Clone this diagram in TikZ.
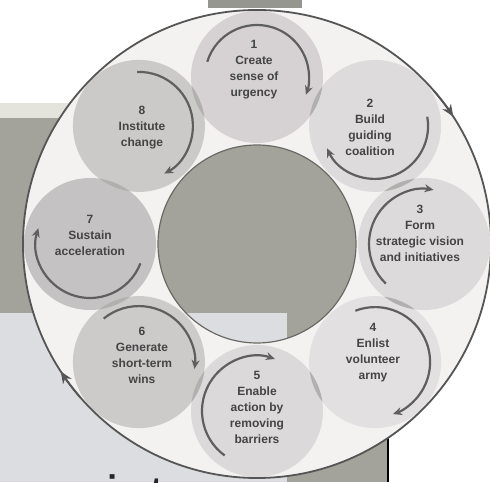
\documentclass[tikz,border=0pt]{standalone}
\usepackage{fontspec}
\setmainfont{Liberation Sans}
\usetikzlibrary{arrows.meta,calc}

% palette
\definecolor{slate}{RGB}{163,163,155}
\definecolor{paleband}{RGB}{228,228,220}
\definecolor{topband}{RGB}{150,150,145}
\definecolor{bluegrey}{RGB}{219,221,225}
\definecolor{ringfill}{RGB}{244,241,241}
\definecolor{ringline}{RGB}{85,85,85}
\definecolor{holeline}{RGB}{105,105,100}
\definecolor{lens}{RGB}{178,175,175}
\definecolor{cycarrow}{RGB}{95,95,95}
\definecolor{stagetext}{RGB}{68,68,68}
\definecolor{cA}{RGB}{214,210,211}
\definecolor{cB}{RGB}{222,219,220}
\definecolor{cC}{RGB}{221,218,219}
\definecolor{cD}{RGB}{226,224,225}
\definecolor{cE}{RGB}{220,217,218}
\definecolor{cF}{RGB}{205,202,202}
\definecolor{cG}{RGB}{197,194,195}
\definecolor{cH}{RGB}{204,201,201}

\tikzset{
  stage/.style={circle, minimum size=132pt, inner sep=0pt, draw=none},
  stagetxt/.style={font=\bfseries\fontsize{12}{16}\selectfont, text=stagetext, align=center, inner sep=0pt},
  cyc/.style={draw=cycarrow, line width=2.2pt, -{Stealth[length=9pt,width=8pt]}},
  outerarrow/.style={draw=ringline, line width=1.8pt, -{Stealth[length=12pt,width=10pt]}}
}

\begin{document}
\begin{tikzpicture}[x=1pt,y=1pt]
\useasboundingbox (0,0) rectangle (490,482);
\clip (0,0) rectangle (490,482);

% slide background behind the wheel
\fill[white] (0,0) rectangle (490,482);
\fill[topband] (208,482) rectangle (302,474);
\fill[paleband] (0,379) rectangle (200,364);
\fill[slate] (0,364) rectangle (388,0);
\fill[bluegrey] (0,169) rectangle (287,0);
\draw[black, line width=1.2pt] (388,364) -- (388,0);
\node[anchor=base west, font=\fontsize{55}{55}\selectfont, text=black!85, inner sep=0pt] (word) at (-16,-32) {appointees};

% wheel: ring with a hole in the middle
\coordinate (C) at (257,238);
\fill[ringfill, even odd rule] (C) circle[radius=234] (C) circle[radius=99];

% eight stages
\node[stage, fill=cA] (s1) at ([shift={(90:167)}]C) {};
\node[stage, fill=cB] (s2) at ([shift={(45:167)}]C) {};
\node[stage, fill=cC] (s3) at ([shift={(0:167)}]C) {};
\node[stage, fill=cD] (s4) at ([shift={(-45:167)}]C) {};
\node[stage, fill=cE] (s5) at ([shift={(-90:167)}]C) {};
\node[stage, fill=cF] (s6) at ([shift={(-135:167)}]C) {};
\node[stage, fill=cG] (s7) at ([shift={(180:167)}]C) {};
\node[stage, fill=cH] (s8) at ([shift={(135:167)}]C) {};

% darker lenses where neighbouring stages overlap
\foreach \a/\b in {s1/s2,s2/s3,s3/s4,s4/s5,s5/s6,s6/s7,s7/s8,s8/s1}{
  \begin{scope}
    \clip (\a.center) circle[radius=66];
    \fill[lens] (\b.center) circle[radius=66];
  \end{scope}
}

% ring outlines and the clockwise arrows on the rim
\draw[ringline, line width=1.8pt] (C) circle[radius=234];
\draw[holeline, line width=1.2pt] (C) circle[radius=99];
\draw[outerarrow] ([shift={(41:234)}]C) arc[start angle=41, end angle=33, radius=234];
\draw[outerarrow] ([shift={(221:234)}]C) arc[start angle=221, end angle=213, radius=234];

% circular arrows inside each stage
\draw[cyc] ([shift={(163:52)}]s1.center) arc[start angle=163, end angle=-20, radius=52];
\draw[cyc] ([shift={(10:53)}]s2.center) arc[start angle=10, end angle=-155, radius=53];
\draw[cyc] ([shift={(226:55)}]s3.center) arc[start angle=226, end angle=80, radius=55];
\draw[cyc] ([shift={(111:55)}]s4.center) arc[start angle=111, end angle=-71, radius=55];
\draw[cyc] ([shift={(234:55)}]s5.center) arc[start angle=234, end angle=71, radius=55];
\draw[cyc] ([shift={(129:56)}]s6.center) arc[start angle=129, end angle=-7, radius=56];
\draw[cyc] ([shift={(-21:54)}]s7.center) arc[start angle=-21, end angle=-197, radius=54];
\draw[cyc] ([shift={(92:54)}]s8.center) arc[start angle=92, end angle=-62, radius=54];

% stage labels
\node[stagetxt] (t1) at (254,412) {1\\Create\\sense of\\urgency};
\node[stagetxt] (t2) at (370,355) {2\\Build\\guiding\\coalition};
\node[stagetxt] (t3) at (420,249) {3\\Form\\strategic vision\\and initiatives};
\node[stagetxt] (t4) at (373,129) {4\\Enlist\\volunteer\\army};
\node[stagetxt] (t5) at (257,75) {5\\Enable\\action by\\removing\\barriers};
\node[stagetxt] (t6) at (142,127) {6\\Generate\\short-term\\wins};
\node[stagetxt] (t7) at (90,247) {7\\Sustain\\acceleration};
\node[stagetxt] (t8) at (142,354) {8\\Institute\\change};
\end{tikzpicture}
\end{document}
